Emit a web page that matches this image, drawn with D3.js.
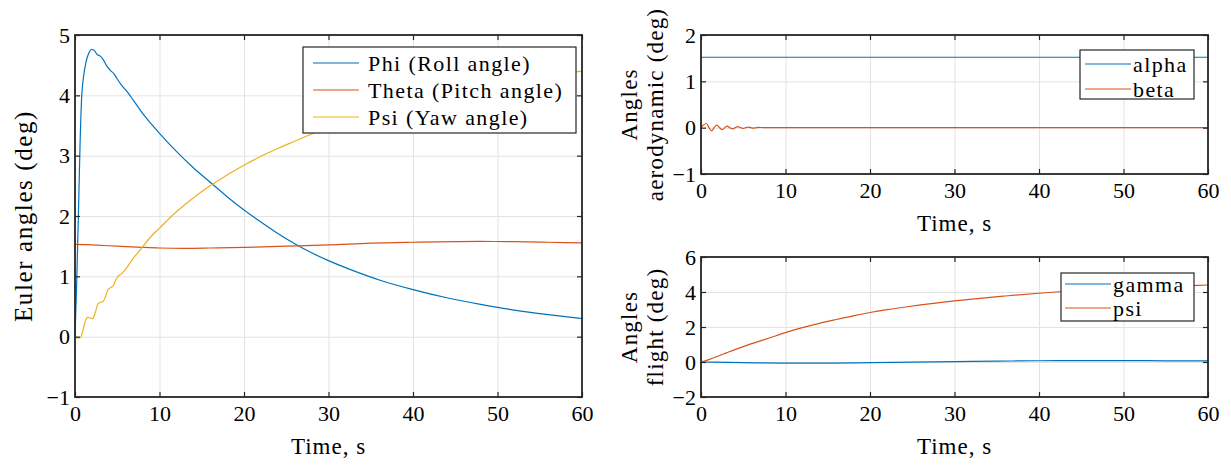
<!DOCTYPE html>
<html lang="en">
<head>
<meta charset="UTF-8">
<title>Euler, aerodynamic and flight angles</title>
<script src="https://d3js.org/d3.v7.min.js"></script>
<style>
  body, html { margin: 0; background: #ffffff; }
  svg { display: block; }
</style>
</head>
<body>
<svg id="chart" width="1231" height="465"></svg>
<script>
// ---- data ----
const phiT   = [0, 0.2, 0.4, 0.6, 0.8, 1.0, 1.3, 1.6, 2.0, 2.3, 2.6, 3.0, 3.4, 3.7, 4.2, 4.6, 5, 5.5, 6, 7, 8, 9, 10, 12, 14, 16, 18, 20, 22, 24, 26, 28, 30, 33, 36, 40, 44, 48, 52, 56, 60];
const phiV   = [0, 0.9, 2.0, 3.2, 4.0, 4.3, 4.55, 4.69, 4.76, 4.74, 4.68, 4.65, 4.58, 4.5, 4.41, 4.36, 4.27, 4.17, 4.09, 3.9, 3.70, 3.53, 3.37, 3.07, 2.80, 2.56, 2.32, 2.10, 1.90, 1.71, 1.54, 1.39, 1.26, 1.09, 0.94, 0.78, 0.645, 0.535, 0.44, 0.365, 0.30];

const thetaT = [0, 2, 5, 8, 10, 13, 16, 20, 25, 30, 35, 40, 45, 48, 52, 56, 60];
const thetaV = [1.53, 1.52, 1.50, 1.48, 1.47, 1.465, 1.47, 1.48, 1.50, 1.52, 1.55, 1.565, 1.575, 1.578, 1.575, 1.565, 1.555];

const psiT   = [0, 0.3, 0.6, 0.9, 1.2, 1.5, 1.8, 2.1, 2.4, 2.7, 3.0, 3.3, 3.6, 3.9, 4.2, 4.5, 4.8, 5.1, 5.5, 6, 6.5, 7, 7.5, 8, 9, 10, 12, 14, 16, 18, 20, 22, 24, 26, 28, 30, 33, 36, 40, 44, 48, 52, 56, 60];
const psiV   = [0, -0.02, -0.02, 0.08, 0.25, 0.32, 0.31, 0.30, 0.40, 0.54, 0.57, 0.58, 0.66, 0.78, 0.81, 0.84, 0.93, 1.0, 1.04, 1.12, 1.22, 1.32, 1.40, 1.49, 1.66, 1.80, 2.07, 2.30, 2.50, 2.68, 2.84, 2.99, 3.12, 3.24, 3.36, 3.47, 3.62, 3.75, 3.92, 4.06, 4.18, 4.27, 4.34, 4.40];

const alphaT = [0, 60];
const alphaV = [1.52, 1.52];

const betaT  = [0, 0.3, 0.65, 0.95, 1.25, 1.55, 1.85, 2.2, 2.5, 2.8, 3.1, 3.4, 3.75, 4.05, 4.35, 4.7, 5.0, 5.3, 5.6, 5.9, 6.25, 6.55, 6.85, 7.5, 60];
const betaV  = [0, 0.06, 0.09, 0.0, -0.07, 0.0, 0.055, 0.0, -0.045, 0, 0.035, 0, -0.028, 0, 0.022, 0, -0.017, 0, 0.013, 0, -0.01, 0, 0.007, 0, 0];

const gammaT = [0, 5, 10, 15, 20, 25, 30, 35, 40, 45, 50, 55, 60];
const gammaV = [0, -0.04, -0.06, -0.06, -0.04, -0.01, 0.02, 0.05, 0.07, 0.08, 0.08, 0.07, 0.06];

const headT  = [0, 1, 2, 3, 4, 5, 6, 8, 10, 12, 14, 16, 18, 20, 22, 24, 26, 28, 30, 33, 36, 40, 44, 48, 52, 56, 60];
const headV  = [0, 0.15, 0.33, 0.52, 0.71, 0.88, 1.05, 1.36, 1.68, 1.96, 2.21, 2.43, 2.64, 2.83, 2.99, 3.13, 3.26, 3.38, 3.49, 3.64, 3.77, 3.93, 4.07, 4.18, 4.27, 4.34, 4.40];

const timeTicks = [0, 10, 20, 30, 40, 50, 60];
const eulerTicks = [-1, 0, 1, 2, 3, 4, 5];
const aeroTicks = [-1, 0, 1, 2];
const flightTicks = [-2, 0, 2, 4, 6];

const colors = ["#0072BD", "#D95319", "#EDB120"];
const FONT = "'Liberation Serif', 'Times New Roman', serif";

const svg = d3.select("#chart");
const fmt = d => (d < 0 ? "\u2212" + Math.abs(d) : String(d));

function zip(t, v) { return t.map((x, i) => [x, v[i]]); }

// every text gets its font set inline
function font(sel, size, spacing) {
    sel.style("font-family", FONT).style("font-size", size + "px").style("fill", "#000");
    if (spacing) sel.style("letter-spacing", spacing + "px");
    return sel;
}

function panel(p) {
    const x = d3.scaleLinear().domain([0, 60]).range([p.left, p.right]);
    const y = d3.scaleLinear().domain(p.yDomain).range([p.bottom, p.top]);
    const g = svg.append("g");
    const w = p.right - p.left, h = p.bottom - p.top;

    // grid
    g.append("g").attr("transform", `translate(0,${p.bottom})`)
        .call(d3.axisBottom(x).tickValues(timeTicks).tickSize(-h).tickFormat(""))
        .call(a => a.select(".domain").remove())
        .selectAll("line").attr("stroke", "#e3e3e3").attr("stroke-width", 1);
    g.append("g").attr("transform", `translate(${p.left},0)`)
        .call(d3.axisLeft(y).tickValues(p.yTicks).tickSize(-w).tickFormat(""))
        .call(a => a.select(".domain").remove())
        .selectAll("line").attr("stroke", "#e3e3e3").attr("stroke-width", 1);

    // series
    const line = d3.line().x(d => x(d[0])).y(d => y(d[1])).curve(d3.curveMonotoneX);
    p.series.forEach((s, i) => {
        g.append("path").datum(zip(s.t, s.v))
            .attr("fill", "none").attr("stroke", colors[i]).attr("stroke-width", 1.2)
            .attr("d", line);
    });

    // axes, ticks pointing inward on all four sides
    const tk = 5;
    const bottom = g.append("g").attr("transform", `translate(0,${p.bottom})`)
        .call(d3.axisBottom(x).tickValues(timeTicks).tickSize(-tk).tickPadding(8).tickFormat(fmt));
    const top = g.append("g").attr("transform", `translate(0,${p.top})`)
        .call(d3.axisTop(x).tickValues(timeTicks).tickSize(-tk).tickFormat(""));
    const left = g.append("g").attr("transform", `translate(${p.left},0)`)
        .call(d3.axisLeft(y).tickValues(p.yTicks).tickSize(-tk).tickPadding(5).tickFormat(fmt));
    const right = g.append("g").attr("transform", `translate(${p.right},0)`)
        .call(d3.axisRight(y).tickValues(p.yTicks).tickSize(-tk).tickFormat(""));
    [bottom, top, left, right].forEach(a => {
        a.select(".domain").remove();
        a.selectAll("line").attr("stroke", "#262626").attr("stroke-width", 1.2);
        font(a.selectAll("text"), 22);
    });
    g.append("rect").attr("x", p.left).attr("y", p.top).attr("width", w).attr("height", h)
        .attr("fill", "none").attr("stroke", "#262626").attr("stroke-width", 1.8);

    // labels
    font(g.append("text"), 23, 1)
        .attr("x", (p.left + p.right) / 2).attr("y", p.bottom + 57)
        .attr("text-anchor", "middle").text("Time, s");
    p.yLabel.forEach((txt, i) => {
        const lx = p.yLabelX[i], ly = (p.top + p.bottom) / 2;
        font(g.append("text"), p.yLabelSize, p.yLabelSpacing)
            .attr("transform", `translate(${lx},${ly}) rotate(-90)`)
            .attr("text-anchor", "middle").attr("dominant-baseline", "central").text(txt);
    });

    // legend
    const L = p.legend;
    const lg = g.append("g");
    lg.append("rect").attr("x", L.x).attr("y", L.y).attr("width", L.w).attr("height", L.h)
        .attr("fill", "#fff").attr("stroke", "#262626").attr("stroke-width", 1.2);
    p.series.forEach((s, i) => {
        const ry = L.y + L.first + i * L.step;
        lg.append("line").attr("x1", L.x + L.pad).attr("x2", L.x + L.pad + L.len)
            .attr("y1", ry).attr("y2", ry).attr("stroke", colors[i]).attr("stroke-width", 1.2);
        font(lg.append("text"), 22, 1.4)
            .attr("x", L.x + L.pad + L.len + L.gap).attr("y", ry)
            .attr("dominant-baseline", "central").text(s.name);
    });
}

panel({
    left: 75, right: 582, top: 35, bottom: 397,
    yDomain: [-1, 5], yTicks: eulerTicks,
    yLabel: ["Euler angles (deg)"], yLabelX: [23], yLabelSize: 25, yLabelSpacing: 1.6,
    series: [
        { name: "Phi (Roll angle)", t: phiT, v: phiV },
        { name: "Theta (Pitch angle)", t: thetaT, v: thetaV },
        { name: "Psi (Yaw angle)", t: psiT, v: psiV }
    ],
    legend: { x: 303, y: 47, w: 273, h: 86, first: 16, step: 27, pad: 10, len: 46, gap: 9 }
});

panel({
    left: 701, right: 1208, top: 35, bottom: 174,
    yDomain: [-1, 2], yTicks: aeroTicks,
    yLabel: ["Angles", "aerodynamic (deg)"], yLabelX: [629, 655], yLabelSize: 23, yLabelSpacing: 1.2,
    series: [
        { name: "alpha", t: alphaT, v: alphaV },
        { name: "beta", t: betaT, v: betaV }
    ],
    legend: { x: 1080, y: 50, w: 114, h: 49, first: 14, step: 25, pad: 5, len: 46, gap: 2 }
});

panel({
    left: 701, right: 1208, top: 257, bottom: 397,
    yDomain: [-2, 6], yTicks: flightTicks,
    yLabel: ["Angles", "flight (deg)"], yLabelX: [629, 655], yLabelSize: 23, yLabelSpacing: 1.2,
    series: [
        { name: "gamma", t: gammaT, v: gammaV },
        { name: "psi", t: headT, v: headV }
    ],
    legend: { x: 1061, y: 273, w: 133, h: 48, first: 11, step: 24, pad: 4, len: 46, gap: 2 }
});
</script>
</body>
</html>
